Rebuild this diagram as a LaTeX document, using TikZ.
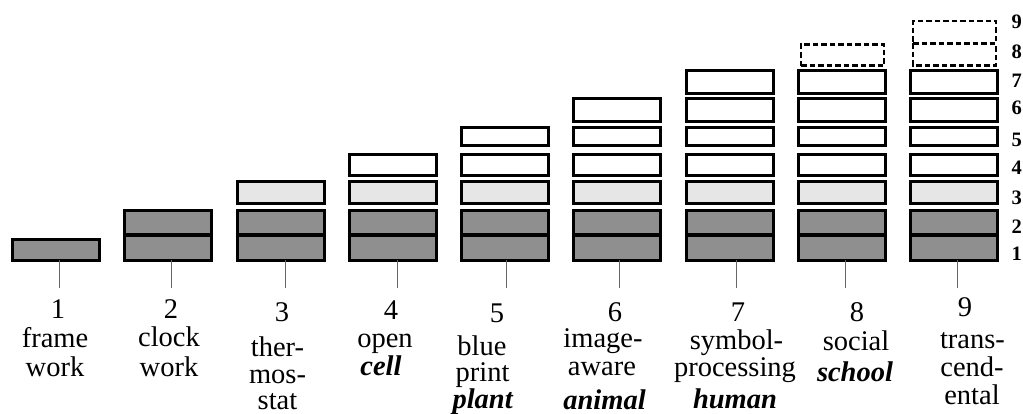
\documentclass[tikz,border=0pt]{standalone}
\usepackage{fontspec}
\setmainfont{Liberation Serif}
\definecolor{dkg}{HTML}{8F8F8F}
\definecolor{ltg}{HTML}{E6E6E6}
\newcommand\bolditalic[1]{\textbf{\textit{#1}}}
\tikzset{
  lay/.style={draw=black, line width=3pt, inner sep=0pt, outer sep=0pt, minimum width=87},
  dshline/.style={draw=black, line width=2.5pt, dash pattern=on 5.5pt off 3pt},
  dsh/.style={dshline, inner sep=0pt, outer sep=0pt, minimum width=83},
  stem/.style={draw=black!60, line width=1pt},
  lab/.style={font=\fontsize{28.5}{28.5}\selectfont, anchor=base, inner sep=0pt},
  rnum/.style={font=\fontsize{20.5}{20.5}\selectfont\bfseries, anchor=base west, inner sep=0pt}
}
\begin{document}
\begin{tikzpicture}[x=1pt,y=-1pt]
\useasboundingbox (0,0) rectangle (1023,414);
% stacked layers
\foreach \i in {1,...,9}{
  \pgfmathsetmacro\cx{56+112.25*(\i-1)}
  \pgfmathtruncatemacro\rmax{min(\i,7)}
  \foreach \r in {1,...,\rmax}{
    \pgfmathsetmacro\cy{{248,222.2,192.65,165,136.65,110,82.15}[\r-1]}
    \pgfmathsetmacro\hh{{24.4,24,22.3,21.6,18.3,22.4,22.7}[\r-1]}
    \ifnum\i=1 \def\cy{250}\def\hh{20.4}\fi
    \ifnum\r<3 \def\fc{dkg}\else\ifnum\r=3 \def\fc{ltg}\else\def\fc{white}\fi\fi
    \node[lay, fill=\fc, minimum height=\hh] (c\i-\r) at (\cx,\cy) {};
  }
}
% dashed future layers
\node[dsh, minimum height=21.4] (c8-8) at (842.5,55) {};
\node[dsh, minimum height=22.5] (c9-9) at (954.5,32.25) {};
\node[inner sep=0pt, outer sep=0pt, minimum width=83, minimum height=22.2] (c9-8) at (954.5,54.6) {};
\draw[dshline] (c9-8.north west) -- (c9-8.south west) -- (c9-8.south east) -- (c9-8.north east);
% stems
\foreach \i/\sx in {1/59.3,2/171,3/285.7,4/397.7,5/506.7,6/619,7/736,8/845.7,9/957.7}{
  \coordinate (s\i) at (\sx,288);
  \draw[stem] (c\i-1.south -| s\i) -- (s\i);
}
% labels
\foreach \x/\y/\t/\n in {
  58/318/1/n1, 55/347/frame/t1a, 55/376/work/t1b,
  171/318/2/n2, 169/346.7/clock/t2a, 169/376/work/t2b,
  282/321.7/3/n3, 277.5/356.7/ther-/t3a, 277.5/383.3/mos-/t3b, 277.5/409/stat/t3c,
  391/319/4/n4, 385/347.7/open/t4a, 381/375/{\bolditalic{cell}}/t4b,
  497/322/5/n5, 482/355/blue/t5a, 482.5/381.7/print/t5b, 483/408/{\bolditalic{plant}}/t5c,
  615/321/6/n6, 603/347.5/image-/t6a, 602/375/aware/t6b, 604.5/409/{\bolditalic{animal}}/t6c,
  738/321.7/7/n7, 736.5/349/symbol-/t7a, 735/376.7/processing/t7b, 735/408.3/{\bolditalic{human}}/t7c,
  857/321.7/8/n8, 856/350/social/t8a, 855/381/{\bolditalic{school}}/t8b,
  965/316.7/9/n9, 972.5/348.3/trans-/t9a, 972/376.7/cend-/t9b, 972/404.3/ental/t9c}{
  \node[lab] (\n) at (\x,\y) {\t};
}
% level numbers on the right
\foreach \k/\y in {1/260.7,2/233.3,3/205,4/175,5/146.7,6/115,7/88,8/58.3,9/28.3}{
  \node[rnum] (r\k) at (1011.5,\y) {\k};
}
\end{tikzpicture}
\end{document}
